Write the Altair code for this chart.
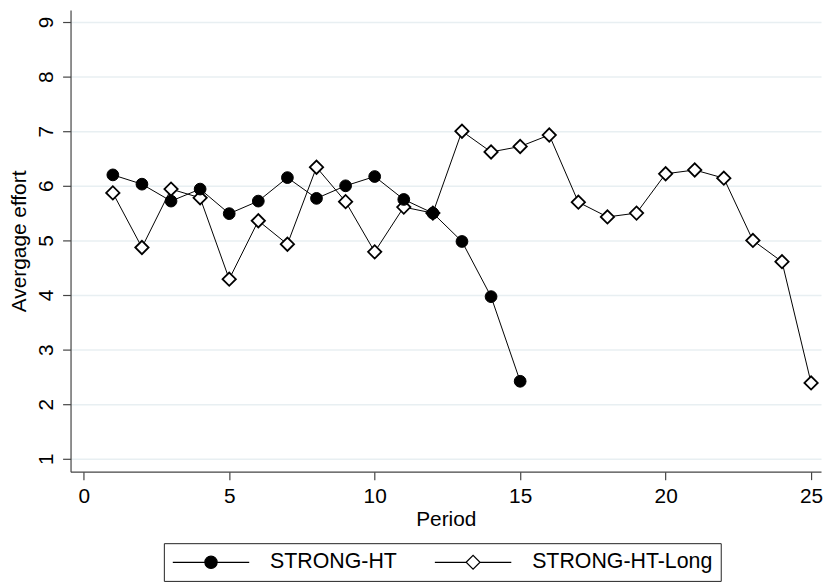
import altair as alt
import pandas as pd

# ---- data ----
series_names = ["STRONG-HT", "STRONG-HT-Long"]
periods_ht = list(range(1, 16))
effort_ht = [6.20, 6.03, 5.72, 5.94, 5.49, 5.72, 6.15, 5.77, 6.00, 6.17,
             5.75, 5.50, 4.98, 3.97, 2.42]
periods_long = list(range(1, 26))
effort_long = [5.87, 4.87, 5.94, 5.78, 4.29, 5.36, 4.93, 6.34, 5.71, 4.79,
               5.61, 5.50, 7.00, 6.62, 6.72, 6.93, 5.70, 5.43, 5.50, 6.22,
               6.29, 6.14, 5.00, 4.61, 2.39]
y_ticks = [1, 2, 3, 4, 5, 6, 7, 8, 9]
x_ticks = [0, 5, 10, 15, 20, 25]

df = pd.concat([
    pd.DataFrame({"Period": periods_ht, "Effort": effort_ht, "Series": series_names[0]}),
    pd.DataFrame({"Period": periods_long, "Effort": effort_long, "Series": series_names[1]}),
], ignore_index=True)

FONT = "Liberation Sans"
AXIS_COL = "#444444"

# legend symbols: line - marker - line
legend_shapes = [
    "M-3.85,0H-0.62M0.62,0H3.85M-0.62,0A0.62,0.62,0,1,1,0.62,0A0.62,0.62,0,1,1,-0.62,0Z",
    "M-3.85,0H-0.7M0.7,0H3.85M-0.7,0L0,-0.7L0.7,0L0,0.7Z",
]

x_enc = alt.X("Period:Q",
              scale=alt.Scale(domain=[-0.454, 25.341], nice=False, zero=False),
              axis=alt.Axis(values=x_ticks, title="Period", grid=False,
                            tickSize=8, labelPadding=6, titlePadding=2,
                            labelFlush=False))
y_enc = alt.Y("Effort:Q",
              scale=alt.Scale(domain=[0.7636, 9.218], nice=False, zero=False),
              axis=alt.Axis(values=y_ticks, title="Avergage effort", grid=True,
                            tickSize=8, labelPadding=6, labelAngle=270,
                            labelAlign="center", labelBaseline="bottom",
                            titlePadding=6, labelFlush=False))

base = alt.Chart(df)

lines = base.mark_line(color="black", strokeWidth=1).encode(
    x=x_enc, y=y_enc, detail="Series:N", order="Period:Q")

diamonds = base.transform_filter(alt.datum.Series == series_names[1]).mark_point(
    shape="diamond", filled=True, fill="white", stroke="black",
    strokeWidth=1.8, size=180, opacity=1).encode(x=x_enc, y=y_enc)

circles = base.transform_filter(alt.datum.Series == series_names[0]).mark_point(
    shape="circle", filled=True, fill="black", stroke="black",
    strokeWidth=1, size=140, opacity=1).encode(x=x_enc, y=y_enc)

leg = alt.Legend(title=None)
legend_layer = base.mark_point(filled=True, opacity=0, strokeWidth=1).encode(
    x=x_enc, y=y_enc,
    shape=alt.Shape("Series:N", scale=alt.Scale(domain=series_names, range=legend_shapes),
                    legend=leg),
    fill=alt.Fill("Series:N", scale=alt.Scale(domain=series_names, range=["black", "white"]),
                  legend=leg),
    stroke=alt.Stroke("Series:N", scale=alt.Scale(domain=series_names, range=["black", "black"]),
                      legend=leg),
)

chart = alt.layer(lines, diamonds, circles, legend_layer).properties(
    width=756, height=465,
    padding={"left": 1, "top": 0, "right": 0, "bottom": 0},
).configure_view(stroke=None).configure_axis(
    labelFont=FONT, titleFont=FONT, labelFontSize=21, titleFontSize=21,
    labelColor="black", titleColor="black", titleFontWeight="normal",
    domainColor=AXIS_COL, tickColor=AXIS_COL, domainWidth=1.2, tickWidth=1.2,
    gridColor="#e8eff2", gridWidth=1.5,
).configure_legend(
    orient="none", legendX=94, legendY=537, direction="horizontal",
    padding=8, strokeColor="#222222", labelFont=FONT, labelFontSize=21.5,
    labelColor="black", symbolSize=400, symbolOffset=28.5, labelOffset=48.5,
    columnPadding=35, symbolStrokeWidth=1.2, labelLimit=400,
    symbolOpacity=1,
)

chart.save("out.html", embed_options={"renderer": "svg", "actions": False})
